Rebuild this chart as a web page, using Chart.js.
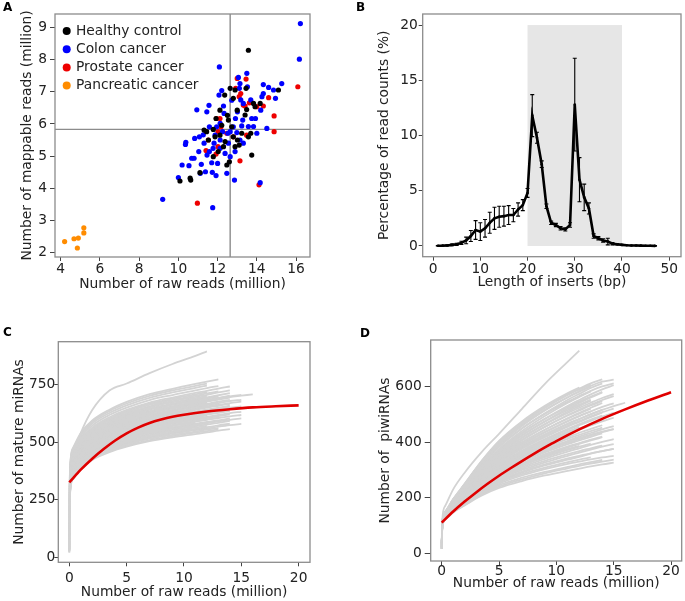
<!DOCTYPE html>
<html>
<head>
<meta charset="utf-8">
<script src="https://cdn.jsdelivr.net/npm/chart.js@4.4.0/dist/chart.umd.min.js"></script>
<style>
body { margin: 0; background: #fff; }
#fig { position: relative; width: 685px; height: 601px; background: #fff; }
.panel { position: absolute; }
.tag { position: absolute; font: bold 12px "DejaVu Sans", sans-serif; color: #000; line-height: 14px; }
</style>
</head>
<body>
<div id="fig">
  <canvas class="panel" id="chartA" width="340" height="300" style="left:0;top:0"></canvas>
  <canvas class="panel" id="chartB" width="345" height="300" style="left:340px;top:0"></canvas>
  <canvas class="panel" id="chartC" width="340" height="301" style="left:0;top:300px"></canvas>
  <canvas class="panel" id="chartD" width="345" height="301" style="left:340px;top:300px"></canvas>
  <div class="tag" style="left:3px;top:0px">A</div>
  <div class="tag" style="left:356px;top:0px">B</div>
  <div class="tag" style="left:3px;top:325px">C</div>
  <div class="tag" style="left:360px;top:326px">D</div>
</div>
<script>
// ---- panel A: raw vs mappable reads (million) ----
const healthy = [[10.08,4.22],[10.6,4.31],[10.63,4.25],[11.1,4.48],[11.31,5.81],[11.53,5.5],[11.78,5.83],[11.87,5.6],
  [12.12,5.65],[12.21,5.96],[12.3,5.29],[12.38,5.45],[12.47,4.72],[12.6,4.82],[12.55,6.12],[12.64,7.11],[12.36,6.9],
  [12.8,6.8],[12.89,7.06],[13.0,6.43],[12.8,5.6],[13.01,5.5],[13.1,5.34],[13.23,5.71],[13.4,6.28],[13.45,7.11],
  [13.57,8.3],[13.48,6.45],[13.57,5.6],[13.69,5.71],[13.74,5.03],[13.83,6.64],[13.91,6.54],[14.17,6.64],[15.1,7.06],
  [12.5,6.27],[11.92,6.17],[12.12,6.43],[12.03,5.14],[11.78,4.98],[11.44,5.76],[12.72,5.91],[12.89,5.29]];
const colon = [[16.22,9.13],[16.17,8.02],[9.2,3.65],[11.75,3.39],[12.86,4.25],[14.17,4.17],[12.09,7.78],[15.27,7.26],
  [14.6,7.14],[14.33,7.23],[14.95,6.8],[10.0,4.33],[10.19,4.72],[10.54,4.7],[10.36,5.36],[10.38,5.43],[10.8,4.93],
  [10.94,6.44],[11.04,5.14],[11.07,5.6],[11.12,4.46],[11.31,5.4],[11.45,6.38],[11.56,6.58],[11.58,5.91],[11.7,4.79],
  [11.73,4.49],[11.38,4.51],[11.92,4.39],[12.0,4.77],[12.07,6.9],[12.21,7.04],[12.3,6.56],[12.33,6.33],[12.13,6.02],
  [11.95,5.91],[11.87,5.65],[11.82,5.4],[12.13,5.24],[12.38,5.08],[12.55,5.4],[12.64,4.98],[12.72,6.74],[12.8,5.91],
  [12.91,6.17],[13.01,6.38],[13.06,7.45],[13.11,7.11],[13.14,7.26],[13.18,6.75],[13.23,5.94],[13.31,6.64],[13.49,7.58],
  [13.52,7.16],[13.57,5.92],[13.69,6.75],[13.74,6.17],[13.83,5.92],[13.93,6.17],[14.0,5.71],[14.2,6.43],[14.26,6.85],
  [14.33,6.95],[14.51,5.86],[14.85,7.06],[12.89,5.14],[13.14,5.5],[13.31,5.4],[12.64,5.76],[12.98,5.73],[13.28,6.12],
  [10.83,5.55],[10.68,4.93],[11.17,4.74],[11.46,5.03],[11.77,5.24],[11.58,5.14],[11.27,5.66],[12.13,5.5],[12.52,5.71],
  [12.25,5.76],[12.47,4.46]];
const prostate = [[10.97,3.53],[14.11,4.1],[13.14,4.85],[11.92,5.06],[11.41,5.17],[11.53,5.5],[12.02,5.76],[11.94,6.17],
  [12.12,6.17],[12.17,5.91],[12.92,7.11],[13.0,7.42],[13.1,6.85],[13.18,6.95],[13.31,6.59],[13.4,6.56],[13.45,7.4],
  [13.62,6.66],[13.48,5.65],[14.0,6.54],[14.33,6.56],[14.6,6.82],[14.88,6.25],[14.88,5.76],[16.09,7.16],[12.8,5.6],
  [12.47,5.71],[12.02,5.29]];
const pancreatic = [[4.2,2.33],[4.68,2.42],[4.9,2.44],[5.18,2.76],[5.18,2.6],[4.85,2.13]];
const cutRaw = 12.64;
const cutMapped = 5.83;

// ---- panel B: insert length distribution ----
const insertLen = [1,2,3,4,5,6,7,8,9,10,11,12,13,14,15,16,17,18,19,20,21,22,23,24,25,26,27,28,29,30,
  31,32,33,34,35,36,37,38,39,40,41,42,43,44,45,46,47];
const readPct = [0.02,0.03,0.05,0.1,0.15,0.28,0.5,0.9,1.45,1.3,1.6,2.1,2.5,2.65,2.7,2.8,2.8,3.3,3.7,4.8,
  11.8,9.8,7.4,3.6,2.1,1.9,1.6,1.5,1.9,12.8,6.0,4.4,3.4,0.9,0.7,0.5,0.4,0.2,0.15,0.1,
  0.07,0.05,0.04,0.03,0.02,0.02,0.01];
const readErr = [0.02,0.02,0.05,0.08,0.1,0.15,0.3,0.5,0.85,0.8,0.8,0.95,1.0,0.95,0.9,0.85,0.6,0.6,0.5,0.4,
  1.9,0.5,0.3,0.2,0.15,0.15,0.15,0.15,0.2,4.2,2.0,1.2,0.5,0.2,0.15,0.15,0.3,0.1,0.05,0.05,
  0.02,0.02,0.02,0.02,0.02,0.02,0.02];
const shadeFrom = 20, shadeTo = 40, shadeTop = 20;

// ---- panels C and D: saturation curves, y read at these x positions ----
const curveGrid = [0, 0.05, 0.3, 1, 2, 3.5, 5, 7, 9, 11, 12, 13, 14, 15, 16];
const mirnaCurves = [
  [40,264,336,384,422,456,480,504,521,535,542,550,557],
  [60,270,343,392,431,466,490,515,532,546,554,561],
  [30,275,350,400,440,475,500,525,543,558,565,573,580],
  [80,278,354,404,444,480,505,530,548,563,571],
  [50,283,361,412,453,489,515,541,559,574,582,590,597,603],
  [25,286,364,416,458,494,520,546,564,580,588,595,603],
  [70,292,371,424,466,504,530,557,575,591,599,607],
  [45,294,375,428,471,508,535,562,580,597,605,613,621],
  [90,297,378,432,475,513,540,567,586,602,610,618,626,632],
  [35,300,382,436,480,518,545,572,591,608,616],
  [55,303,385,440,484,523,550,578,597,613,622,630,638],
  [20,305,389,444,488,527,555,583,602,619,627,635],
  [65,308,392,448,493,532,560,588,608,624,633,641,650,655],
  [40,311,396,452,497,537,565,593,613,630,638,647,655],
  [100,314,399,456,502,542,570,599,618,636],
  [30,316,403,460,506,546,575,604,624,641,650,658,667],
  [75,319,406,464,510,551,580,609,629,647,655,664],
  [50,322,410,468,515,556,585,614,635,652,661,670,679,684],
  [85,325,413,472,519,561,590,620,640,658,667,676,684],
  [35,327,417,476,524,565,595,625,646,663,672],
  [60,330,420,480,528,570,600,630,651,669,678,687,696,702,708],
  [25,333,424,484,532,575,605,635,656,675,684,693,702],
  [110,336,427,488,537,580,610,641,662,680,689,698],
  [45,338,431,492,541,584,615,646,667,686,695,704,713],
  [70,341,434,496,546,589,620,651,673,691,701],
  [40,347,441,504,554,599,630,662,684,702,712,721],
  [55,352,448,512,563,608,640,672,694,714,723,733,742],
  [30,363,462,528,581,627,660,693,716,736,746],
  [80,371,473,540,594,641,675,709,732,753,763,773],
  [45,289,368,420,462,499,525,551,570,585],
  [65,272,347,396,436,470,495,520,537,552,559,567,574,579],
  [50,267,340,388,427,461,485,509,526,541,548,555],
  [35,274,349,398,438,473,498,523,540,555,563],
  [60,281,357,408,449,485,510,536,553,569,576,584,592],
  [40,285,363,414,456,492,518,544,562,578,585,593],
  [75,290,370,422,465,502,528,554,573,589,597,605,612,618],
  [25,296,377,430,473,511,538,565,584,600,608],
  [85,301,384,438,482,521,548,575,595,611,619,627,636],
  [45,307,391,446,491,530,558,586,605,622,631,639],
  [30,312,398,454,500,540,568,596,616,633,642,650,659],
  [90,318,405,462,509,549,578,607,627,644,653,662,670,676],
  [55,323,412,470,517,559,588,617,638,656,664,673],
  [20,329,419,478,526,568,598,628,649,667,676,685,694],
  [65,332,422,482,531,573,603,633,654,672,681,690,699,706],
  [40,337,428,490,539,581,612,643,664,682,692,701],
  [70,344,438,500,550,594,625,656,678,697,706,716,725],
  [30,349,445,508,559,603,635,667,689,708,718],
  [50,358,455,520,572,618,650,683,705,725,735,744],
  [35,367,468,534,588,635,668,701,725,745,755],
  [60,286,364,416,458,494,520,546,564],
  [25,316,403,460,506,546,575,604,624,641],
  [30,330,440,540,640,725,755,800,840,875,895]
];
const mirnaFitX = [0, 1, 2, 3, 4, 5, 6, 7, 8, 9, 10, 12, 14, 16, 18, 20];
const mirnaFitY = [325, 380, 428, 470, 507, 538, 563, 583, 598, 610, 619, 633, 643, 651, 656, 660];

const piwiCurves = [
  [15,90,120,147,172,208,235,260,280,297,305,313,320,326],
  [25,92,123,150,177,214,245,272,293,311,320,328,336],
  [20,93,125,153,181,220,255,285,308,328,337,345],
  [30,94,126,155,184,225,262,294,320,342,351,360,368,376],
  [15,95,127,157,188,231,270,305,333,357,368,378,388],
  [25,96,128,159,191,237,278,315,346,372,384,395],
  [20,96,129,160,194,241,285,324,357,385,397,409,420],
  [35,97,130,162,197,246,292,333,368,398,411,424,436,447],
  [20,98,131,164,201,252,300,344,380,412,426,440,452],
  [15,98,132,165,203,257,306,351,389,422],
  [30,99,133,167,206,262,312,359,399,434,449,464,478],
  [25,100,134,169,209,267,318,367,407,444,461,477,492,506],
  [20,101,136,172,213,273,325,376,418,456,473,490,506],
  [40,102,137,174,216,277,330,382,426,465,483,500,516,530,542],
  [20,102,138,176,219,283,336,390,435,476,494,511],
  [30,103,139,178,222,288,342,398,445,487,506,524,541],
  [20,104,140,180,225,293,348,406,455,498,517,535,552,566],
  [15,105,141,182,229,299,355,415,465,510,530,549],
  [35,105,142,184,232,304,362,423,475,521,541,561,579],
  [25,106,143,186,235,309,368,431,484,531,552,572,590,605],
  [20,107,145,188,239,315,375,440,494,542,563,583],
  [30,107,146,190,242,320,382,449,504,553,574,595,612],
  [20,108,147,192,245,325,390,458,514,562,583,603,618,625],
  [25,109,148,194,248,330,398,467,523,570,590,608],
  [15,110,149,195,250,334,405,475,531,577,597],
  [30,97,130,163,199,249,296,338,372,402,415,427,438,447],
  [20,95,128,158,190,236,280,318,350,376,387],
  [25,92,124,151,179,217,250,280,303,322,330,338,345,351],
  [35,91,121,148,174,212,240,266,288,306,315,323,330,337],
  [20,93,124,153,182,224,258,290,316,337,347,359,368,376],
  [15,94,125,155,186,229,266,300,327,351,362,373,384,393],
  [30,95,127,157,189,235,274,310,340,366,378,390,401,411],
  [25,96,128,160,193,241,282,321,352,381,394,406,418],
  [20,97,129,161,196,246,289,330,363,393,406,419,432],
  [35,97,131,163,199,251,296,338,374,405,420,433,446,458],
  [15,98,132,165,202,257,303,348,385,418,434,448,461],
  [25,99,132,167,205,261,309,355,394,429,445,460,475,488],
  [30,100,133,168,208,265,315,363,402,438,455],
  [20,100,134,170,210,269,321,370,411,448,465,481,496],
  [40,101,136,172,214,274,328,379,421,459,476,493,508,521],
  [15,102,137,173,216,278,333,385,428,467,484,501,516],
  [25,102,138,175,219,283,339,393,437,476,494,511,527,540],
  [30,103,139,177,222,288,345,400,445,485,503,521],
  [20,104,140,179,225,293,352,409,455,496,514,532,548],
  [35,105,141,181,228,298,358,417,464,505,524,542,559,573],
  [15,105,142,183,231,303,365,425,474,516,535,553],
  [25,106,143,185,234,308,372,434,484,526,546,564,581],
  [20,108,146,189,241,319,385,450,502,546,566,585,601,612],
  [30,109,147,192,245,326,395,463,517,562,582,600],
  [20,110,149,194,249,332,402,471,527,573,593,612,626],
  [20,120,170,230,290,365,430,520,610,690,730]
];
const piwiFitX = [0, 1, 2, 3, 4, 5, 6, 7, 8, 9, 10, 12, 14, 16, 18, 20];
const piwiFitY = [110, 150, 186, 219, 250, 279, 306, 332, 357, 381, 404, 446, 484, 518, 550, 580];

Chart.defaults.font.family = '"DejaVu Sans", sans-serif';
Chart.defaults.color = '#222';
Chart.defaults.animation = false;
Chart.defaults.plugins.legend.display = false;
Chart.defaults.plugins.tooltip.enabled = false;

// grey box round every plot area
Chart.register({
  id: 'frame',
  afterDatasetsDraw(chart) {
    const { ctx, chartArea: a } = chart;
    ctx.save();
    ctx.strokeStyle = '#8c8c8c';
    ctx.lineWidth = 1.3;
    ctx.strokeRect(a.left, a.top, a.right - a.left, a.bottom - a.top);
    ctx.restore();
  }
});

function axis(min, max, ticks, title, o) {
  return {
    type: 'linear',
    min: min,
    max: max,
    afterBuildTicks: s => { s.ticks = ticks.map(v => ({ value: v })); },
    afterFit: s => { if (s.isHorizontal()) s.height = o.size; else s.width = o.size; },
    border: { display: false },
    grid: { drawOnChartArea: false, tickLength: o.tick, color: '#444' },
    ticks: { padding: o.pad, font: { size: 13.8, lineHeight: 1 } },
    title: { display: true, text: title, font: { size: 13.8 }, padding: o.title }
  };
}

function pairs(list) {
  return list.map(p => ({ x: p[0], y: p[1] }));
}

function curveSets(curves, fitX, fitY) {
  // first dataset is painted last, so the red fit sits on top
  const sets = [{
    data: fitX.map((x, i) => ({ x: x, y: fitY[i] })),
    showLine: true, borderColor: '#e00000', borderWidth: 2.6, pointRadius: 0,
    cubicInterpolationMode: 'monotone'
  }];
  curves.forEach(c => {
    sets.push({
      data: c.map((y, i) => ({ x: curveGrid[i], y: y })),
      showLine: true, borderColor: '#d3d3d3', borderWidth: 1.8, pointRadius: 0,
      cubicInterpolationMode: 'monotone'
    });
  });
  return sets;
}

// ---- A ----
const quadrantLines = {
  id: 'quadrantLines',
  beforeDatasetsDraw(chart) {
    const { ctx, chartArea: a, scales: { x, y } } = chart;
    const px = x.getPixelForValue(cutRaw);
    const py = y.getPixelForValue(cutMapped);
    ctx.save();
    ctx.strokeStyle = '#8c8c8c';
    ctx.lineWidth = 1.4;
    ctx.beginPath();
    ctx.moveTo(px, a.top); ctx.lineTo(px, a.bottom);
    ctx.moveTo(a.left, py); ctx.lineTo(a.right, py);
    ctx.stroke();
    ctx.restore();
  }
};

const insideLegend = {
  id: 'insideLegend',
  afterDraw(chart) {
    const { ctx, chartArea: a } = chart;
    ctx.save();
    ctx.font = '13.8px "DejaVu Sans", sans-serif';
    ctx.textBaseline = 'middle';
    chart.data.datasets.forEach((ds, i) => {
      const y = a.top + 17 + i * 18.2;
      ctx.fillStyle = ds.backgroundColor;
      ctx.beginPath();
      ctx.arc(a.left + 11.7, y, 4, 0, Math.PI * 2);
      ctx.fill();
      ctx.fillStyle = '#222';
      ctx.fillText(ds.label, a.left + 21, y);
    });
    ctx.restore();
  }
};

new Chart(document.getElementById('chartA'), {
  type: 'scatter',
  data: {
    datasets: [
      { label: 'Healthy control', data: pairs(healthy), backgroundColor: '#000000' },
      { label: 'Colon cancer', data: pairs(colon), backgroundColor: '#0000ff' },
      { label: 'Prostate cancer', data: pairs(prostate), backgroundColor: '#ee0000' },
      { label: 'Pancreatic cancer', data: pairs(pancreatic), backgroundColor: '#ff8c00' }
    ]
  },
  options: {
    responsive: false,
    elements: { point: { radius: 2.6, borderWidth: 0 } },
    layout: { padding: { left: 0, top: 14, right: 30, bottom: 0 } },
    scales: {
      x: axis(3.71, 16.71, [4, 6, 8, 10, 12, 14, 16], 'Number of raw reads (million)',
        { size: 43, tick: 4, pad: 2, title: { top: 0, bottom: 7 } }),
      y: axis(1.85, 9.43, [2, 3, 4, 5, 6, 7, 8, 9], 'Number of mappable reads (million)',
        { size: 55, tick: 5, pad: 3, title: { top: 19, bottom: 0 } })
    }
  },
  plugins: [quadrantLines, insideLegend]
});

// ---- B ----
const shade = {
  id: 'shade',
  beforeDatasetsDraw(chart) {
    const { ctx, scales: { x, y } } = chart;
    const x0 = x.getPixelForValue(shadeFrom), x1 = x.getPixelForValue(shadeTo);
    const y0 = y.getPixelForValue(0), y1 = y.getPixelForValue(shadeTop);
    ctx.save();
    ctx.fillStyle = '#e6e6e6';
    ctx.fillRect(x0, y1, x1 - x0, y0 - y1);
    ctx.restore();
  }
};

const errorBars = {
  id: 'errorBars',
  afterDatasetsDraw(chart) {
    const { ctx, scales: { x, y } } = chart;
    ctx.save();
    ctx.strokeStyle = '#000';
    ctx.lineWidth = 1.1;
    insertLen.forEach((len, i) => {
      const px = x.getPixelForValue(len);
      const hi = y.getPixelForValue(readPct[i] + readErr[i]);
      const lo = y.getPixelForValue(readPct[i] - readErr[i]);
      ctx.beginPath();
      ctx.moveTo(px, hi); ctx.lineTo(px, lo);
      ctx.moveTo(px - 2, hi); ctx.lineTo(px + 2, hi);
      ctx.moveTo(px - 2, lo); ctx.lineTo(px + 2, lo);
      ctx.stroke();
    });
    ctx.restore();
  }
};

new Chart(document.getElementById('chartB'), {
  type: 'scatter',
  data: {
    datasets: [{
      data: insertLen.map((x, i) => ({ x: x, y: readPct[i] })),
      showLine: true, borderColor: '#000', borderWidth: 2.6,
      pointRadius: 1.3, pointBackgroundColor: '#000', pointBorderWidth: 0
    }]
  },
  options: {
    responsive: false,
    layout: { padding: { left: 0, top: 14, right: 3.3, bottom: 0 } },
    scales: {
      x: axis(-2.2, 52.5, [0, 10, 20, 30, 40, 50], 'Length of inserts (bp)',
        { size: 43.3, tick: 4, pad: 2, title: { top: 0, bottom: 9 } }),
      y: axis(-0.97, 21, [0, 5, 10, 15, 20], 'Percentage of read counts (%)',
        { size: 82.7, tick: 4, pad: 1, title: { top: 36, bottom: 0 } })
    }
  },
  plugins: [shade, errorBars]
});

// ---- C ----
new Chart(document.getElementById('chartC'), {
  type: 'scatter',
  data: { datasets: curveSets(mirnaCurves, mirnaFitX, mirnaFitY) },
  options: {
    responsive: false,
    layout: { padding: { left: 0, top: 41.7, right: 30, bottom: 0 } },
    scales: {
      x: axis(-0.96, 20.99, [0, 5, 10, 15, 20], 'Number of raw reads (million)',
        { size: 38.7, tick: 4, pad: 5, title: { top: 0, bottom: 0 } }),
      y: axis(-23, 937, [0, 250, 500, 750], 'Number of mature miRNAs',
        { size: 58.3, tick: 4, pad: -1, title: { top: 11, bottom: 0 } })
    }
  }
});

// ---- D ----
new Chart(document.getElementById('chartD'), {
  type: 'scatter',
  data: { datasets: curveSets(piwiCurves, piwiFitX, piwiFitY) },
  options: {
    responsive: false,
    layout: { padding: { left: 0, top: 40, right: 3.3, bottom: 0 } },
    scales: {
      x: axis(-0.96, 20.93, [0, 5, 10, 15, 20], 'Number of raw reads (million)',
        { size: 40, tick: 4, pad: 0, title: { top: 0, bottom: 9 } }),
      y: axis(-28, 768, [0, 200, 400, 600], 'Number of  piwiRNAs',
        { size: 90.7, tick: 6, pad: 3, title: { top: 36.7, bottom: 0 } })
    }
  }
});
</script>
</body>
</html>
